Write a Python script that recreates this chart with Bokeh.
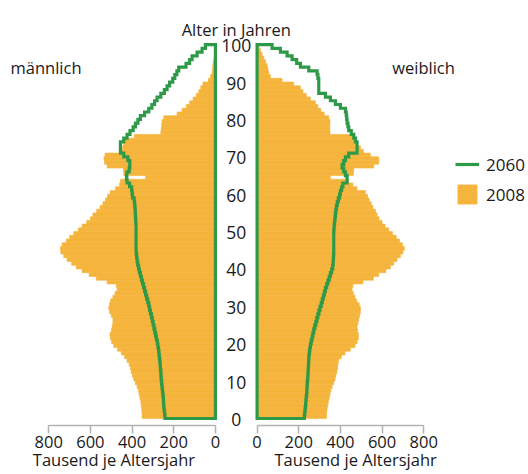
import numpy as np
from bokeh.plotting import figure
from bokeh.models import (Range1d, LinearAxis, FixedTicker, Legend,
                          LegendItem, ColumnDataSource)
from bokeh.core.properties import value
from bokeh.embed import file_html
from bokeh.resources import INLINE

# ---------------- data (thousands per year of age, ages 0..99) ----------------
ages = list(range(100))

male_2008 = [
    352, 352, 354, 356, 358, 362, 366, 370, 376, 384,
    392, 398, 404, 408, 414, 424, 436, 452, 470, 488,
    498, 504, 506, 500, 496, 492, 492, 500, 508, 512,
    508, 504, 492, 482, 472, 476, 520, 572, 606, 640,
    668, 690, 712, 728, 742, 744, 736, 716, 700, 680,
    658, 640, 618, 600, 588, 570, 554, 540, 528, 518,
    505, 480, 460, 456, 336, 440, 442, 520, 532, 535,
    530, 450, 445, 440, 435, 390, 262, 260, 258, 256,
    248, 184, 160, 140, 124, 107, 92, 80, 70, 60,
    34, 24, 16, 14, 12, 10, 6, 4, 3, 2,
]

female_2008 = [
    333, 334, 336, 339, 342, 346, 350, 354, 360, 368,
    374, 378, 383, 386, 388, 392, 404, 422, 448, 470,
    480, 486, 486, 482, 480, 484, 488, 492, 496, 496,
    490, 478, 470, 462, 456, 460, 508, 558, 584, 618,
    640, 656, 672, 688, 700, 707, 698, 684, 668, 650,
    632, 614, 600, 586, 576, 568, 556, 548, 538, 530,
    520, 480, 460, 440, 352, 462, 464, 560, 584, 584,
    544, 510, 496, 480, 472, 470, 350, 349, 349, 350,
    344, 322, 306, 292, 280, 256, 236, 220, 208, 176,
    120, 64, 56, 52, 48, 40, 32, 24, 16, 8,
]

male_2060 = [
    242, 244, 246, 248, 249, 250, 252, 254, 256, 258,
    260, 261, 262, 264, 265, 267, 269, 271, 273, 276,
    279, 283, 287, 291, 295, 299, 303, 307, 312, 316,
    320, 325, 330, 335, 340, 345, 350, 355, 360, 365,
    369, 373, 376, 378, 380, 381, 381, 381, 381, 381,
    381, 381, 382, 383, 384, 385, 386, 388, 390, 398,
    400, 402, 412, 424, 427, 425, 414, 411, 411, 420,
    440, 456, 456, 456, 440, 424, 410, 395, 384, 372,
    360, 340, 320, 305, 292, 280, 262, 245, 232, 220,
    205, 195, 185, 176, 141, 124, 112, 88, 64, 48,
]

female_2060 = [
    227, 229, 231, 233, 234, 236, 238, 239, 240, 241,
    243, 244, 245, 246, 247, 248, 249, 251, 253, 256,
    260, 264, 268, 272, 277, 282, 287, 292, 297, 302,
    308, 313, 318, 323, 328, 334, 340, 346, 352, 358,
    363, 365, 366, 367, 368, 368, 368, 368, 368, 368,
    369, 370, 372, 374, 376, 378, 381, 385, 390, 396,
    400, 406, 412, 432, 432, 424, 416, 408, 416, 424,
    440, 480, 480, 480, 472, 464, 452, 440, 436, 432,
    430, 428, 424, 400, 376, 352, 328, 296, 296, 296,
    296, 292, 288, 248, 208, 190, 168, 144, 112, 72,
]

age_ticks = [0, 10, 20, 30, 40, 50, 60, 70, 80, 90, 100]
value_ticks = [0, 200, 400, 600, 800]
series_labels = ["2060", "2008"]

# ---------------- style ----------------
FONT = "Open Sans"
TXT = "#1a1a1a"
ORANGE = "#F5B43C"
GREEN = "#2E9A48"
GRAY = "#B3B3B3"
GAP = 100          # half gap between the two panels, in data units

x_start, x_end = -1131.6, 1402.8
y_start, y_end = -14.981, 111.824
axis_y = -1.792

p = figure(width=528, height=474, output_backend="svg", toolbar_location=None,
           x_range=Range1d(x_start, x_end), y_range=Range1d(y_start, y_end),
           x_axis_location=None, y_axis_location=None,
           min_border_left=0, min_border_right=0,
           min_border_top=0, min_border_bottom=0, outline_line_color=None)
p.grid.visible = False
p.background_fill_color = "white"
p.border_fill_color = "white"

# ---------------- bars 2008 ----------------
yc = [a + 0.5 for a in ages]
src_m = ColumnDataSource(dict(y=yc, left=[-(GAP + v) for v in male_2008],
                              right=[-GAP] * len(ages)))
src_f = ColumnDataSource(dict(y=yc, left=[GAP] * len(ages),
                              right=[GAP + v for v in female_2008]))
bar_r = p.hbar(y="y", height=1, left="left", right="right", source=src_m,
               fill_color=ORANGE, line_color=ORANGE, line_width=0.6)
p.hbar(y="y", height=1, left="left", right="right", source=src_f,
       fill_color=ORANGE, line_color=ORANGE, line_width=0.6)


# ---------------- outline 2060 (step line) ----------------
def step_path(vals, sign):
    n = len(vals)
    xs, ys = [sign * GAP, sign * GAP], [n / 2, 0]
    for a, v in enumerate(vals):
        xs += [sign * (GAP + v)] * 2
        ys += [a, a + 1]
    xs += [sign * GAP, sign * GAP]
    ys += [n, n / 2]
    return xs, ys


mx, my = step_path(male_2060, -1)
fx, fy = step_path(female_2060, 1)
line_r = p.line(mx, my, line_color=GREEN, line_width=3.2, line_join="miter")
p.line(fx, fy, line_color=GREEN, line_width=3.2, line_join="miter")


# ---------------- axes ----------------
def make_axis(ticks, labels, bounds):
    ax = LinearAxis(fixed_location=axis_y)
    ax.ticker = FixedTicker(ticks=ticks)
    ax.major_label_overrides = dict(zip(ticks, labels))
    ax.bounds = bounds
    ax.axis_line_color = GRAY
    ax.axis_line_width = 1.5
    ax.major_tick_line_color = GRAY
    ax.major_tick_line_width = 1.5
    ax.major_tick_in = 0
    ax.major_tick_out = 8
    ax.minor_tick_line_color = None
    ax.major_label_standoff = 3
    ax.major_label_text_font = FONT
    ax.major_label_text_font_size = "16.5px"
    ax.major_label_text_color = TXT
    return ax


left_ticks = [-(GAP + t) for t in value_ticks]
right_ticks = [GAP + t for t in value_ticks]
labels = [str(t) for t in value_ticks]
p.add_layout(make_axis(left_ticks, labels, (-(GAP + value_ticks[-1]), -GAP)), "below")
p.add_layout(make_axis(right_ticks, labels, (GAP, GAP + value_ticks[-1])), "below")

# ---------------- texts ----------------
p.text(x=[0] * len(age_ticks), y=age_ticks, text=[str(a) for a in age_ticks],
       text_align="center", text_baseline="middle", text_font=value(FONT),
       text_font_size="17.5px", text_color=TXT, y_offset=1)

p.text(x=[0], y=[103.99], text=["Alter in Jahren"], text_align="center",
       text_baseline="alphabetic", text_font=value(FONT),
       text_font_size="16.5px", text_color=TXT)
p.text(x=[-1083.6], y=[93.98], text=["männlich"], text_align="left",
       text_baseline="alphabetic", text_font=value(FONT),
       text_font_size="16.5px", text_color=TXT)
p.text(x=[748.6], y=[93.9], text=["weiblich"], text_align="left",
       text_baseline="alphabetic", text_font=value(FONT),
       text_font_size="16.5px", text_color=TXT)
p.text(x=[-976.6, 183.6], y=[-10.97, -10.97],
       text=["Tausend je Altersjahr", "Tausend je Altersjahr"],
       text_align="left", text_baseline="middle", text_font=value(FONT),
       text_font_size="16.5px", text_color=TXT)

# ---------------- legend ----------------
legend = Legend(items=[LegendItem(label=series_labels[0], renderers=[line_r]),
                       LegendItem(label=series_labels[1], renderers=[bar_r])],
                location=(455, 268), glyph_width=24, glyph_height=24,
                label_height=24, spacing=6, padding=0, margin=0,
                label_standoff=7, border_line_color=None,
                background_fill_alpha=0, label_text_font=FONT,
                label_text_font_size="17px", label_text_color=TXT)
p.add_layout(legend)

open("out.html", "w").write(file_html(p, INLINE))
